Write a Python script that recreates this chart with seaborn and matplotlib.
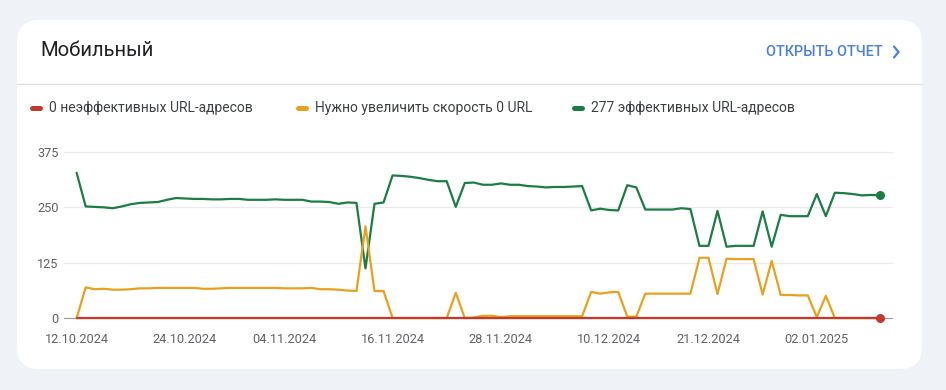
import pandas as pd
import numpy as np
import matplotlib
matplotlib.use("Agg")
import matplotlib.pyplot as plt
import matplotlib.dates as mdates
from matplotlib.patches import FancyBboxPatch
from matplotlib.lines import Line2D
from matplotlib.transforms import IdentityTransform
import seaborn as sns

# Step 1: chart data
dates = pd.date_range("2024-10-12", "2025-01-09", freq="D")

good = [328, 252, 251, 250, 248, 252, 257, 260, 261, 262,
        267, 271, 270, 269, 269, 268, 268, 269, 269, 267,
        267, 267, 268, 267, 267, 267, 263, 263, 262, 258,
        261, 260, 112, 258, 261, 322, 321, 319, 316, 312,
        309, 309, 251, 305, 306, 301, 301, 304, 301, 301,
        298, 297, 295, 296, 296, 297, 298, 243, 247, 244,
        243, 300, 295, 245, 245, 245, 245, 248, 246, 163,
        163, 242, 161, 163, 163, 163, 241, 161, 233, 230,
        230, 230, 280, 230, 283, 282, 280, 277, 278, 277]

needs_work = [0, 69, 65, 66, 64, 64, 65, 67, 67, 68,
              68, 68, 68, 68, 66, 66, 67, 68, 68, 68,
              68, 68, 68, 67, 67, 67, 68, 65, 65, 64,
              62, 61, 207, 61, 61, 0, 0, 0, 0, 0,
              0, 0, 57, 0, 1, 5, 5, 2, 4, 4,
              4, 4, 4, 4, 4, 4, 4, 59, 55, 58,
              59, 3, 3, 55, 55, 55, 55, 55, 55, 136,
              136, 54, 134, 133, 133, 133, 53, 129, 52, 52,
              51, 51, 2, 50, 0, 0, 0, 0, 0, 0]

poor = [0] * 90

series_names = ["277 эффективных URL-адресов",
                "Нужно увеличить скорость 0 URL",
                "0 неэффективных URL-адресов"]
series_colors = ["#1a7d43", "#e8a11c", "#c5392a"]

tick_dates = ["2024-10-12", "2024-10-24", "2024-11-04", "2024-11-16",
              "2024-11-28", "2024-12-10", "2024-12-21", "2025-01-02"]
y_ticks = [0, 125, 250, 375]

df = pd.DataFrame({
    "date": np.tile(dates, 3),
    "value": good + needs_work + poor,
    "series": np.repeat(series_names, len(dates)),
})

# Step 2: style
sns.set_style("white")
plt.rcParams["font.family"] = ["Roboto", "DejaVu Sans"]

W, H = 946, 390
fig = plt.figure(figsize=(W / 100, H / 100), dpi=100)
fig.patch.set_facecolor("#eff2f7")

# white card (behind everything)
card = FancyBboxPatch((17, H - 369), 905, 349,
                      boxstyle="round,pad=0,rounding_size=22",
                      transform=IdentityTransform(), facecolor="white",
                      edgecolor="none", zorder=-5)
fig.patches.append(card)


def fx(x):
    return x / W


def fy(y):
    return 1 - y / H


# header
fig.text(fx(40), fy(50), "Мобильный", fontsize=14.6, color="#202124",
         va="center", ha="left")
fig.text(fx(883), fy(52), "ОТКРЫТЬ ОТЧЕТ", fontsize=10.4, color="#4a7fe3",
         va="center", ha="right", fontweight="medium")
fig.add_artist(Line2D([fx(894), fx(898.5), fx(894)], [fy(46.5), fy(52), fy(57.5)],
                      color="#4a7fe3", lw=1.6, solid_capstyle="round",
                      solid_joinstyle="miter"))
fig.add_artist(Line2D([fx(17), fx(922)], [fy(84), fy(84)], color="#dadce0", lw=0.8))

# legend
legend_items = [(30, series_names[2], series_colors[2]),
                (296, series_names[1], series_colors[1]),
                (572, series_names[0], series_colors[0])]
for x0, label, col in legend_items:
    fig.add_artist(Line2D([fx(x0 + 2), fx(x0 + 10)], [fy(108), fy(108)], color=col,
                          lw=3.6, solid_capstyle="round"))
    fig.text(fx(x0 + 19), fy(108), label, fontsize=10, color="#3c4043",
             va="center", ha="left")

# Step 3: the line chart
ax = fig.add_axes([fx(64), fy(318), fx(892 - 64), (318 - 152) / H])
ax.set_zorder(2)
ax.set_facecolor("none")
for y in y_ticks[1:]:
    ax.axhline(y, color="#e8eaed", lw=0.9, zorder=0)
ax.axhline(0, color="#9aa0a6", lw=0.9, zorder=0.5, clip_on=False)

sns.lineplot(data=df, x="date", y="value", hue="series", hue_order=series_names,
             palette=series_colors, linewidth=1.6, legend=False, ax=ax)
for line in ax.get_lines():
    line.set_clip_on(False)

ax.scatter([dates[-1]], [good[-1]], s=30, color=series_colors[0], zorder=5, clip_on=False)
ax.scatter([dates[-1]], [poor[-1]], s=30, color=series_colors[2], zorder=5, clip_on=False)

ax.set_xlim(dates[0] - pd.Timedelta(days=1.4), dates[-1] + pd.Timedelta(days=1.33))
ax.set_ylim(0, 375)
ax.set_yticks(y_ticks)
ax.set_xticks(pd.to_datetime(tick_dates))
ax.xaxis.set_major_formatter(mdates.DateFormatter("%d.%m.%Y"))
ax.tick_params(axis="both", length=0, labelsize=9.2, labelcolor="#5f6368")
ax.tick_params(axis="x", pad=11)
ax.tick_params(axis="y", pad=4)
ax.set_xlabel("")
ax.set_ylabel("")
sns.despine(ax=ax, left=True, bottom=True)

fig.savefig("out.png", dpi=100, facecolor=fig.get_facecolor())
